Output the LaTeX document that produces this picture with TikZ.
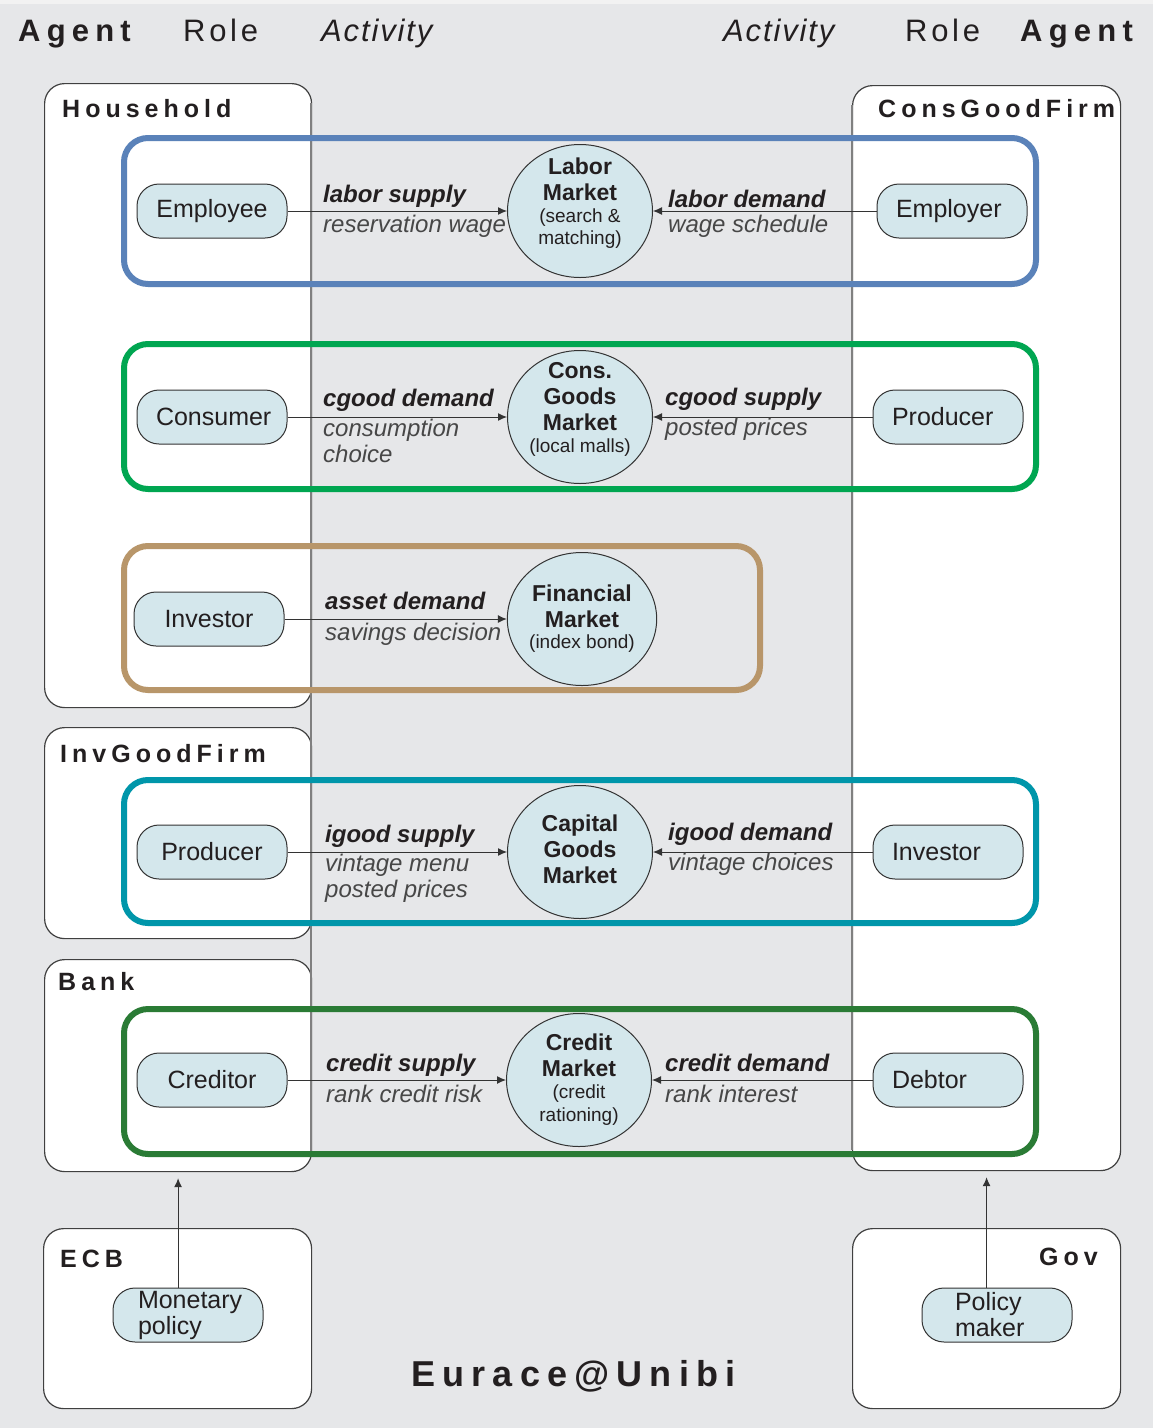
\documentclass[tikz,border=0pt]{standalone}
\usepackage{fontspec}
\setmainfont{Liberation Sans}
\newfontfamily\spacedfont[LetterSpace=20]{Liberation Sans}
\newfontfamily\rolehdrfont[LetterSpace=12]{Liberation Sans}
\newfontfamily\acthdrfont[LetterSpace=6]{Liberation Sans}
\usetikzlibrary{shapes.geometric,arrows.meta}

\definecolor{bggray}{RGB}{230,231,233}
\definecolor{rolefill}{RGB}{212,231,236}
\definecolor{inkdark}{RGB}{35,31,32}
\definecolor{laborblue}{RGB}{90,130,185}
\definecolor{consgreen}{RGB}{0,166,81}
\definecolor{fintan}{RGB}{184,150,106}
\definecolor{capteal}{RGB}{0,150,170}
\definecolor{creditgreen}{RGB}{42,123,53}

\newcommand\mknote{\fontsize{19}{22}\selectfont\mdseries}

\tikzset{
  agentbox/.style={draw=black!75, fill=white, rounded corners=20pt, line width=1.2pt, anchor=north west, inner sep=0pt},
  agenttitle/.style={anchor=base west, inner sep=0pt, text=inkdark, font=\spacedfont\bfseries\fontsize{25}{28}\selectfont},
  hdragent/.style={anchor=base west, inner sep=0pt, text=inkdark, font=\spacedfont\bfseries\fontsize{31}{34}\selectfont},
  hdrrole/.style={anchor=base west, inner sep=0pt, text=inkdark, font=\rolehdrfont\fontsize{31}{34}\selectfont},
  hdract/.style={anchor=base west, inner sep=0pt, text=inkdark, font=\acthdrfont\itshape\fontsize{31}{34}\selectfont},
  divider/.style={draw=black!50, line width=1.6pt},
  grouprim/.style={line width=6pt, rounded corners=24pt},
  rolebox/.style={draw=black!80, fill=rolefill, rounded corners=22pt, line width=1pt, minimum height=54pt, text width=112pt, inner xsep=19pt, inner ysep=0pt, text=inkdark, font=\fontsize{25}{26}\selectfont},
  roleleft/.style={rolebox, align=center},
  roleright/.style={rolebox, align=left},
  market/.style={ellipse, draw=black!80, fill=rolefill, line width=1pt, minimum width=145pt, minimum height=133pt, inner sep=0pt, align=center, text=inkdark, font=\fontsize{23}{26}\selectfont\bfseries},
  raised/.style={text depth=#1, inner ysep=-20pt},
  flow/.style={draw=black!80, line width=1pt, -{Latex[length=9pt,width=8pt]}},
  actup/.style={anchor=base west, inner sep=0pt, text=inkdark, font=\fontsize{24}{26}\selectfont\bfseries\itshape},
  actdown/.style={anchor=base west, inner sep=0pt, text=black!72, align=left, font=\fontsize{24}{26}\selectfont\itshape},
}

\begin{document}
\begin{tikzpicture}[x=1pt,y=-1pt]
    \useasboundingbox (0,0) rectangle (1153,1428);
    \fill[bggray] (0,0) rectangle (1153,1428);
    \fill[black!5] (0,0) rectangle (1153,4);

    % column headers
    \node[hdragent] (agentL) at (18,41) {Agent};
    \node[hdrrole] (roleL) at (183,41) {Role};
    \node[hdract] (actL) at (321,41) {Activity};
    \node[hdract] (actR) at (723,41) {Activity};
    \node[hdrrole] (roleR) at (905,41) {Role};
    \node[hdragent] (agentR) at (1020,41) {Agent};

    % agents
    \node[agentbox, minimum width=267pt, minimum height=624pt] (household) at (44,83) {};
    \node[agentbox, minimum width=268pt, minimum height=1085pt] (cgfirm) at (852,85) {};
    \node[agentbox, minimum width=267pt, minimum height=211pt] (igfirm) at (44,727) {};
    \node[agentbox, minimum width=267pt, minimum height=212pt] (bank) at (44,959) {};
    \node[agentbox, minimum width=268pt, minimum height=180pt] (ecb) at (43,1228) {};
    \node[agentbox, minimum width=268pt, minimum height=180pt] (gov) at (852,1228) {};

    \node[agenttitle] (hhtitle) at (62,117) {Household};
    \node[agenttitle] (cgtitle) at (878,117) {ConsGoodFirm};
    \node[agenttitle] (igtitle) at (60,762) {InvGoodFirm};
    \node[agenttitle] (bktitle) at (58,990) {Bank};
    \node[agenttitle] (ecbtitle) at (60,1267) {ECB};
    \node[agenttitle, anchor=base east] (govtitle) at (1098,1265) {Gov};

    % activity column
    \draw[divider] (311,103) -- (311,1151);
    \draw[divider] (852,105) -- (852,1150);

    % markets
    \draw[grouprim, laborblue] (124,138) rectangle (1036,284);
    \draw[grouprim, consgreen] (124,344) rectangle (1036,489);
    \draw[grouprim, fintan] (124,546) rectangle (760,690);
    \draw[grouprim, capteal] (124,780) rectangle (1036,923);
    \draw[grouprim, creditgreen] (124,1009) rectangle (1036,1154);

    \node[market, raised=20pt] (labmkt) at (580,211) {Labor\\Market\\[-4pt]\mknote (search \&\\[-4pt]\mknote matching)};
    \node[market, raised=20pt] (cgmkt) at (580,417) {Cons.\\Goods\\Market\\[-4pt]\mknote (local malls)};
    \node[market] (finmkt) at (582,619) {Financial\\Market\\[-5pt]\mknote (index bond)};
    \node[market, raised=6pt] (kgmkt) at (580,852) {Capital\\Goods\\Market};
    \node[market] (crmkt) at (579,1080) {Credit\\Market\\[-4pt]\mknote (credit\\[-3pt]\mknote rationing)};

    % roles
    \node[roleleft] (employee) at (212,211) {Employee};
    \node[roleright] (employer) at (952,211) {Employer};
    \node[roleleft] (consumer) at (212,417) {Consumer};
    \node[roleright] (cproducer) at (948,417) {Producer};
    \node[roleleft] (hinvestor) at (209,619) {Investor};
    \node[roleleft] (iproducer) at (212,852) {Producer};
    \node[roleright] (finvestor) at (948,852) {Investor};
    \node[roleleft] (creditor) at (212,1080) {Creditor};
    \node[roleright] (debtor) at (948,1080) {Debtor};
    \node[rolebox, align=left, text width=100pt, inner xsep=25pt] (monpol) at (188,1315) {Monetary\\policy};
    \node[rolebox, align=left, text width=84pt, inner xsep=33pt] (polmaker) at (997,1315) {Policy\\maker};

    \draw[flow] (employee) -- (labmkt);
    \draw[flow] (employer) -- (labmkt);
    \draw[flow] (consumer) -- (cgmkt);
    \draw[flow] (cproducer) -- (cgmkt);
    \draw[flow] (hinvestor) -- (finmkt);
    \draw[flow] (iproducer) -- (kgmkt);
    \draw[flow] (finvestor) -- (kgmkt);
    \draw[flow] (creditor) -- (crmkt);
    \draw[flow] (debtor) -- (crmkt);
    \draw[flow] (monpol.north -| bank.south) -- ([yshift=-6pt]bank.south);
    \draw[flow] (polmaker.north -| cgfirm.south) -- ([yshift=-6pt]cgfirm.south);

    % activities
    \node[actup] (labsup) at (323,202) {labor supply};
    \node[actdown] (reswage) at (323,232) {reservation wage};
    \node[actup] (labdem) at (668,207) {labor demand};
    \node[actdown] (wagesch) at (668,232) {wage schedule};

    \node[actup] (cgdem) at (323,406) {cgood demand};
    \node[actdown] (conschoice) at (323,462) {consumption\\choice};
    \node[actup] (cgsup) at (665,405) {cgood supply};
    \node[actdown] (cgprices) at (665,435) {posted prices};

    \node[actup] (assetdem) at (325,609) {asset demand};
    \node[actdown] (savings) at (325,640) {savings decision};

    \node[actup] (igsup) at (325,842) {igood supply};
    \node[actdown] (vintmenu) at (325,897) {vintage menu\\posted prices};
    \node[actup] (igdem) at (668,840) {igood demand};
    \node[actdown] (vintchoice) at (668,870) {vintage choices};

    \node[actup] (crsup) at (326,1071) {credit supply};
    \node[actdown] (crrisk) at (326,1102) {rank credit risk};
    \node[actup] (crdem) at (665,1071) {credit demand};
    \node[actdown] (crint) at (665,1102) {rank interest};

    \node[anchor=base west, inner sep=0pt, text=inkdark, font=\spacedfont\bfseries\fontsize{36}{40}\selectfont] (brand) at (411,1386) {Eurace@Unibi};
\end{tikzpicture}
\end{document}
